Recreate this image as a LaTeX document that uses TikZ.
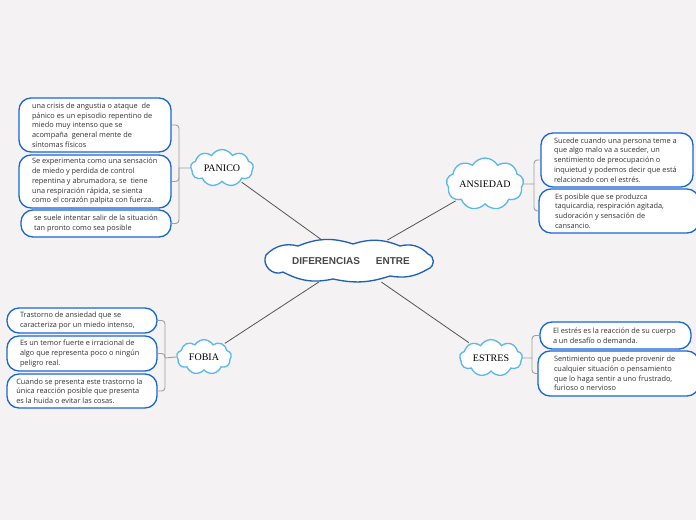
\documentclass[tikz,border=0pt]{standalone}
\usepackage{fontspec}
\usepackage{tikz}
\usetikzlibrary{positioning, shapes.symbols, calc}
\newfontfamily\notefont{Open Sans}
\newfontfamily\cloudfont{Liberation Serif}
\newfontfamily\hubfont{Liberation Sans}
\definecolor{bgcol}{HTML}{F4F2F3}
\definecolor{noteblue}{HTML}{1A66D6}
\definecolor{hubblue}{HTML}{1F62B5}
\definecolor{cloudblue}{HTML}{5CB8EA}
\definecolor{textgray}{HTML}{333333}
\definecolor{linkgray}{HTML}{555555}
\definecolor{bracegray}{HTML}{A0A0A0}
\tikzset{
  % outline of the central cloud
  hubline/.style={draw=hubblue, fill=white, line width=1pt},
  % text of the central cloud
  hub/.style={rectangle, inner sep=0pt, minimum width=127pt, minimum height=30pt,
              font=\hubfont\bfseries\fontsize{7.5}{8}\selectfont, text=textgray!90},
  % branch cloud, #1 = width
  branch/.style={cloud, cloud puffs=9, cloud puff arc=120, aspect=1.8,
                 draw=cloudblue, fill=white, line width=1pt, inner sep=0pt,
                 minimum width=#1, minimum height=26pt,
                 font=\cloudfont\fontsize{7.5}{8}\selectfont, text=black},
  % rounded note, #1 = text width
  note/.style={rectangle, rounded corners=9pt, draw=noteblue, fill=white,
               line width=1pt, inner xsep=9.75pt, inner ysep=1pt,
               text width=#1, align=flush left, text=textgray,
               font=\notefont\fontsize{5.5}{7.3}\selectfont},
  % line from hub to branch
  link/.style={draw=linkgray, line width=0.6pt, shorten <=1pt, shorten >=1pt},
  % bracket from branch to its notes
  bracket/.style={draw=bracegray, line width=0.7pt, rounded corners=2.5pt},
}
\begin{document}
\begin{tikzpicture}[x=0.75pt, y=-0.75pt]
  \fill[bgcol] (0,0) rectangle (696,520);
  \useasboundingbox (0,0) rectangle (696,520);

  % central cloud, drawn by hand
  \begin{scope}[shift={(348,261)}]
    \draw[hubline] (-82,-6) to[bend left=30] (-50,-15) to[bend left=20] (5,-17)
      to[bend left=20] (52,-15) to[bend left=30] (80,-7)
      to[bend left=70, looseness=1.3] (80,8) to[bend left=20] (42,15)
      to[bend left=15] (-15,18) to[bend left=20] (-65,11)
      to[bend left=70, looseness=1.2] cycle;
  \end{scope}
  \node[hub] (dif) at (351,261) {DIFERENCIAS\hspace{12pt}ENTRE};

  % branch clouds
  \node[branch=47pt] (pan) at (222,168) {PANICO};
  \node[branch=58pt] (ans) at (485,184) {ANSIEDAD};
  \node[branch=41pt] (fob) at (204,357) {FOBIA};
  \node[branch=47pt] (est) at (491,358) {ESTRES};

  \foreach \b in {pan,ans,fob,est}
    \draw[link] (\b) -- (dif);

  % PANICO
  \node[note=94.5pt, minimum height=40.5pt] (p1) at (95,125)
    {una crisis de angustia o ataque\ \ de\\pánico es un episodio repentino de\\miedo muy intenso que se\\acompaña\ \ general mente de\\síntomas físicos};
  \node[note=94.5pt, minimum height=39.75pt] (p2) at (95,181.5)
    {Se experimenta como una sensación\\de miedo y perdida de control\\repentina y abrumadora, se\ \ tiene\\una respiración rápida, se sienta\\como el corazón palpita con fuerza.};
  \node[note=93pt, minimum height=20.25pt] (p3) at (96,223.5)
    {se suele intentar salir de la situación\\tan pronto como sea posible};
  \coordinate (pj) at (179,168);
  \draw[bracket] (pan.west) -- (pj);
  \foreach \n in {p1,p2,p3}
    \draw[bracket] (pj) |- (\n.east);

  % ANSIEDAD
  \node[note=94.5pt, minimum height=40.5pt] (a1) at (617,160)
    {Sucede cuando una persona teme a\\que algo malo va a suceder, un\\sentimiento de preocupación o\\inquietud y podemos decir que está\\relacionado con el estrés.};
  \node[note=96pt, minimum height=33pt, inner xsep=12pt] (a2) at (619,211)
    {Es posible que se produzca\\taquicardia, respiración agitada,\\sudoración y sensación de\\cansancio.};
  \coordinate (aj) at (534,184);
  \draw[bracket] (ans.east) -- (aj);
  \foreach \n in {a1,a2}
    \draw[bracket] (aj) |- (\n.west);

  % FOBIA
  \node[note=93pt, minimum height=18.75pt] (f1) at (82,320.5)
    {Trastorno de ansiedad que se\\caracteriza por un miedo intenso,};
  \node[note=93pt, minimum height=26.25pt] (f2) at (82,353.5)
    {Es un temor fuerte e irracional de\\algo que representa poco o ningún\\peligro real.};
  \node[note=98.5pt, minimum height=25.5pt, inner xsep=7pt] (f3) at (82,391)
    {Cuando se presenta este trastorno la\\única reacción posible que presenta\\es la huida o evitar las cosas.};
  \coordinate (fj) at (165,358);
  \draw[bracket] (fob.west) -- (fj);
  \foreach \n in {f1,f2,f3}
    \draw[bracket] (fj) |- (\n.east);

  % ESTRES
  \node[note=93.75pt, minimum height=20.25pt] (e1) at (615.5,335.5)
    {El estrés es la reacción de su cuerpo\\a un desafío o demanda.};
  \node[note=96.75pt, minimum height=33.75pt, inner xsep=12pt] (e2) at (618.5,373.5)
    {Sentimiento que puede provenir de\\cualquier situación o pensamiento\\que lo haga sentir a uno frustrado,\\furioso o nervioso};
  \coordinate (ej) at (532,358);
  \draw[bracket] (est.east) -- (ej);
  \foreach \n in {e1,e2}
    \draw[bracket] (ej) |- (\n.west);
\end{tikzpicture}
\end{document}
